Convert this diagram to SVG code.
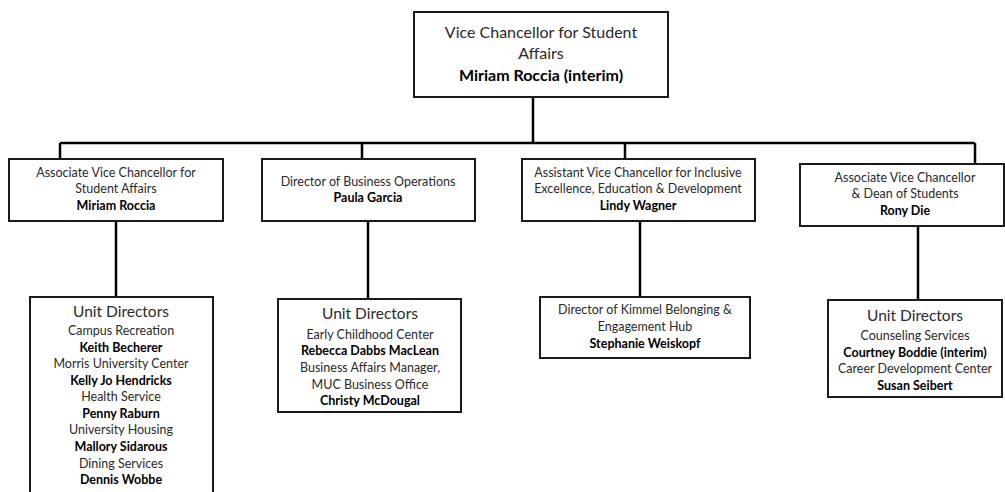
<svg xmlns="http://www.w3.org/2000/svg" width="1005" height="492" viewBox="0 0 1005 492">
<style>
.box{fill:#fff;stroke:#1a1a1a;stroke-width:2}
.ln{fill:none;stroke:#000;stroke-width:2.5}
text{font-family:Lato,"Open Sans","Liberation Sans",sans-serif;text-anchor:middle;fill:#2a2a2a}
.t{font-size:16px}
.u{font-size:15.5px}
.s{font-size:12.5px}
.b{font-weight:bold;fill:#000}
</style>
<rect width="1005" height="492" fill="#fff"/>
<g id="connectors">
<path class="ln" d="M533,97V143M60,143H975M60,143V159M362,143V159M625,143V159M975,143V164M116,221V297M368,221V299M640,221V297M918,226V300"/>
</g>
<g id="vc">
<rect class="box" x="414" y="12" width="254" height="85"/>
<text class="t" x="541" y="38">Vice Chancellor for Student</text>
<text class="t" x="541" y="59">Affairs</text>
<text class="t b" x="541" y="81">Miriam Roccia (interim)</text>
</g>
<g id="avc">
<rect class="box" x="9" y="159" width="214" height="62"/>
<text class="s" x="116" y="177">Associate Vice Chancellor for</text>
<text class="s" x="116" y="193">Student Affairs</text>
<text class="s b" x="116" y="210">Miriam Roccia</text>
</g>
<g id="dbo">
<rect class="box" x="262" y="159" width="213" height="62"/>
<text class="s" x="368" y="186">Director of Business Operations</text>
<text class="s b" x="368" y="202">Paula Garcia</text>
</g>
<g id="asvc">
<rect class="box" x="522" y="159" width="233" height="62"/>
<text class="s" x="638" y="177">Assistant Vice Chancellor for Inclusive</text>
<text class="s" x="638" y="193">Excellence, Education &amp; Development</text>
<text class="s b" x="638" y="210">Lindy Wagner</text>
</g>
<g id="dean">
<rect class="box" x="800" y="164" width="204" height="62"/>
<text class="s" x="905" y="182">Associate Vice Chancellor</text>
<text class="s" x="905" y="198">&amp; Dean of Students</text>
<text class="s b" x="905" y="215">Rony Die</text>
</g>
<g id="ud1">
<rect class="box" x="30" y="297" width="183" height="200"/>
<text class="u" x="121" y="317">Unit Directors</text>
<text class="s" x="121" y="335">Campus Recreation</text>
<text class="s b" x="121" y="352">Keith Becherer</text>
<text class="s" x="121" y="368">Morris University Center</text>
<text class="s b" x="121" y="385">Kelly Jo Hendricks</text>
<text class="s" x="121" y="401">Health Service</text>
<text class="s b" x="121" y="418">Penny Raburn</text>
<text class="s" x="121" y="434">University Housing</text>
<text class="s b" x="121" y="451">Mallory Sidarous</text>
<text class="s" x="121" y="468">Dining Services</text>
<text class="s b" x="121" y="484">Dennis Wobbe</text>
</g>
<g id="ud2">
<rect class="box" x="278" y="299" width="183" height="113"/>
<text class="u" x="370" y="319">Unit Directors</text>
<text class="s" x="370" y="339">Early Childhood Center</text>
<text class="s b" x="370" y="355">Rebecca Dabbs MacLean</text>
<text class="s" x="370" y="372">Business Affairs Manager,</text>
<text class="s" x="370" y="389">MUC Business Office</text>
<text class="s b" x="370" y="405">Christy McDougal</text>
</g>
<g id="kimmel">
<rect class="box" x="540" y="297" width="210" height="61"/>
<text class="s" x="645" y="314">Director of Kimmel Belonging &amp;</text>
<text class="s" x="645" y="331">Engagement Hub</text>
<text class="s b" x="645" y="348">Stephanie Weiskopf</text>
</g>
<g id="ud4">
<rect class="box" x="828" y="300" width="174" height="97"/>
<text class="u" x="915" y="321">Unit Directors</text>
<text class="s" x="915" y="340">Counseling Services</text>
<text class="s b" x="915" y="357">Courtney Boddie (interim)</text>
<text class="s" x="915" y="373">Career Development Center</text>
<text class="s b" x="915" y="390">Susan Seibert</text>
</g>
</svg>
